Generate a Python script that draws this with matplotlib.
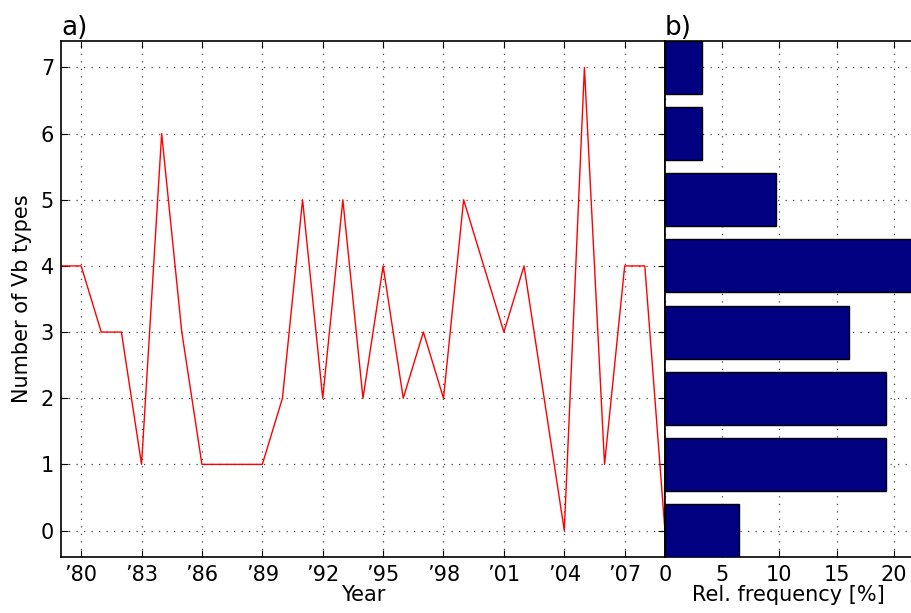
import numpy as np
import matplotlib
matplotlib.use("Agg")
import matplotlib.pyplot as plt

# yearly number of Vb types
years = list(range(1979, 2010))
n_vb = [4, 4, 3, 3, 1, 6, 3, 1, 1, 1, 1, 2, 5, 2, 5, 2, 4, 2, 3, 2,
        5, 4, 3, 4, 2, 0, 7, 1, 4, 4, 0]

# relative frequency of each class (panel b)
classes = [0, 1, 2, 3, 4, 5, 6, 7]
rel_freq = [6.45, 19.35, 19.35, 16.13, 22.58, 9.68, 3.23, 3.23]

year_ticks = [1980, 1983, 1986, 1989, 1992, 1995, 1998, 2001, 2004, 2007]
year_labels = ["\u201980", "\u201983", "\u201986", "\u201989", "\u201992",
               "\u201995", "\u201998", "\u201901", "\u201904", "\u201907"]

plt.rcParams['font.family'] = ['DejaVu Sans']

fig = plt.figure(figsize=(9.12, 6.13), dpi=100)
ax1 = fig.add_axes([0.0669, 0.0914, 0.6622, 0.8417])
ax2 = fig.add_axes([0.7291, 0.0914, 0.2709, 0.8417])

grid_style = dict(linestyle=(0, (1, 5)), color='#444444', linewidth=0.9)

# panel a
ax1.plot(years, n_vb, color='red', linewidth=1)
ax1.set_xlim(1979, 2009)
ax1.set_ylim(-0.4, 7.4)
ax1.set_xticks(year_ticks)
ax1.set_xticklabels(year_labels)
ax1.set_yticks(range(0, 8))
ax1.grid(True, **grid_style)
ax1.tick_params(direction='in', top=True, right=True, labelsize=15, length=5)
ax1.tick_params(axis='x', pad=6)
ax1.tick_params(axis='y', pad=5)
ax1.set_xlabel("Year", fontsize=15, labelpad=0)
ax1.set_ylabel("Number of Vb types", fontsize=15, labelpad=6)
ax1.text(0, 1.0, "a)", transform=ax1.transAxes, fontsize=19,
         ha='left', va='bottom')

# panel b
ax2.barh(classes, rel_freq, height=0.8, color='#000080', edgecolor='black',
         linewidth=1, zorder=3)
ax2.set_xlim(0, 21.6)
ax2.set_ylim(-0.4, 7.4)
ax2.set_xticks([0, 5, 10, 15, 20])
ax2.set_yticks(range(0, 8))
ax2.set_yticklabels([])
ax2.grid(True, zorder=0, **grid_style)
ax2.tick_params(axis='x', direction='in', top=True, labelsize=15, length=5, pad=6)
ax2.tick_params(axis='y', length=0)
ax2.spines['right'].set_visible(False)
ax2.set_xlabel("Rel. frequency [%]", fontsize=15, labelpad=0)
ax2.text(0, 1.0, "b)", transform=ax2.transAxes, fontsize=19,
         ha='left', va='bottom')

for ax in (ax1, ax2):
    for s in ax.spines.values():
        s.set_linewidth(1.2)

fig.savefig("out.png", dpi=100)
